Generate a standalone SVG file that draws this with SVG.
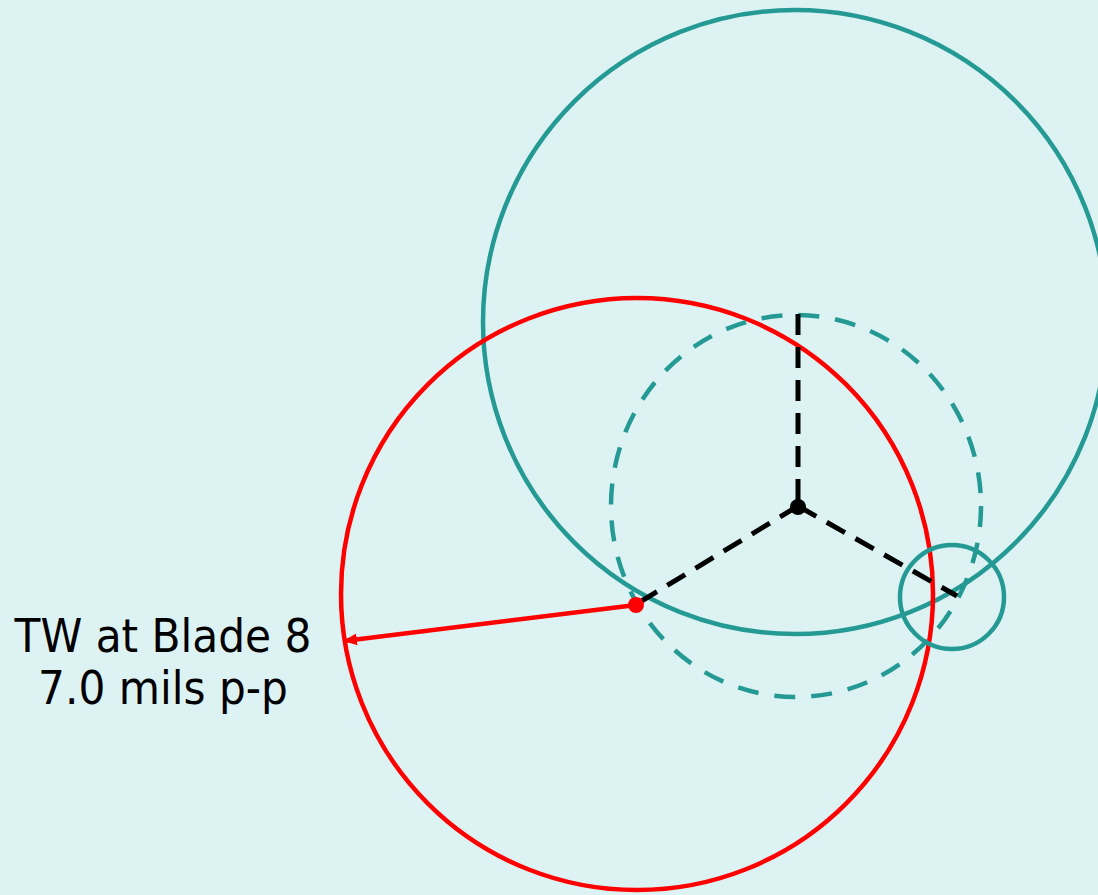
<svg xmlns="http://www.w3.org/2000/svg" width="1098" height="895" viewBox="0 0 1098 895">
<defs>
<style>
.teal{fill:none;stroke:#259A94;stroke-width:4.5}
.tdash{fill:none;stroke:#259A94;stroke-width:4.5;stroke-dasharray:21 16}
.red{fill:none;stroke:#FF0000;stroke-width:4.5}
.bdash{fill:none;stroke:#000;stroke-width:5;stroke-dasharray:21 12}
.lbl{font-family:'DejaVu Sans Condensed','DejaVu Sans',sans-serif;font-stretch:condensed;font-size:47px;fill:#000;text-anchor:middle}
</style>
<marker id="ah" viewBox="0 0 14 12" refX="13" refY="6" markerWidth="14" markerHeight="12" markerUnits="userSpaceOnUse" orient="auto">
<path d="M0,0 L14,6 L0,12 z" fill="#FF0000"/>
</marker>
</defs>
<rect x="0" y="0" width="1098" height="895" fill="#DDF3F3"/>
<g id="big-circle"><circle class="teal" cx="795" cy="322" r="312"/></g>
<g id="red-circle"><circle class="red" cx="637" cy="594" r="296"/></g>
<g id="dashed-circle"><ellipse class="tdash" cx="796" cy="506" rx="185" ry="191"/></g>
<g id="small-circle"><circle class="teal" cx="952" cy="597" r="52"/></g>
<g id="connectors">
<line class="bdash" x1="798" y1="314" x2="798" y2="506"/>
<line class="bdash" x1="798" y1="506" x2="640" y2="602"/>
<line class="bdash" x1="798" y1="506" x2="957" y2="596"/>
<line x1="636" y1="605" x2="344" y2="641" stroke="#FF0000" stroke-width="4.5" marker-end="url(#ah)"/>
</g>
<g id="center-dot"><circle cx="798" cy="507" r="8" fill="#000"/></g>
<g id="red-dot"><circle cx="636" cy="605" r="8" fill="#FF0000"/></g>
<g id="label">
<text class="lbl" x="163" y="652">TW at Blade 8</text>
<text class="lbl" x="163" y="704">7.0 mils p-p</text>
</g>
</svg>
